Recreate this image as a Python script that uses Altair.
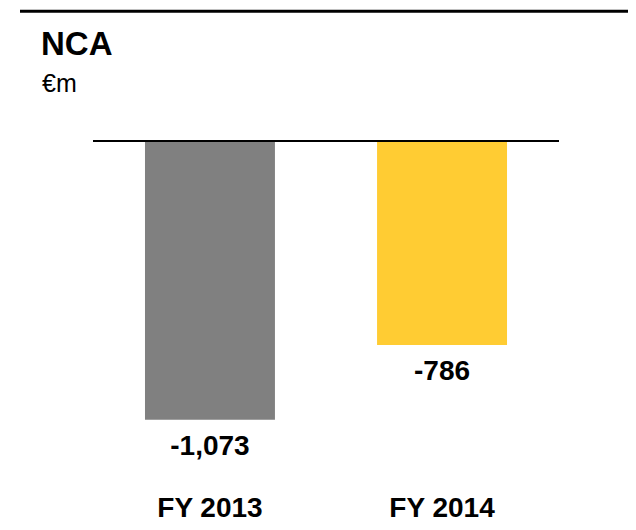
import altair as alt
import pandas as pd

# ---- data ----
categories = ["FY 2013", "FY 2014"]
values = [-1073, -786]
value_labels = ["-1,073", "-786"]
bar_colors = ["#808080", "#FFCC33"]
title_text = "NCA"
unit_text = "€m"

FONT = "Liberation Sans"

df = pd.DataFrame({"period": categories, "nca": values, "label": value_labels})
one = pd.DataFrame({"k": [0]})

x_enc = alt.X(
    "period:N",
    sort=categories,
    scale=alt.Scale(paddingInner=0.44, paddingOuter=0.224),
    axis=alt.Axis(
        title=None,
        orient="bottom",
        domain=False,
        ticks=False,
        grid=False,
        labelAngle=0,
        labelFont=FONT,
        labelFontSize=28,
        labelFontWeight="bold",
        labelColor="#000000",
        labelPadding=4,
    ),
)
y_enc = alt.Y("nca:Q", scale=alt.Scale(domain=[-1344, 0], nice=False), axis=None)

bars = alt.Chart(df).mark_bar().encode(
    x=x_enc,
    y=y_enc,
    color=alt.Color("period:N", scale=alt.Scale(domain=categories, range=bar_colors), legend=None),
)

labels = alt.Chart(df).mark_text(
    baseline="top", align="center", dy=13, font=FONT, fontSize=28, fontWeight="bold", color="#000000"
).encode(
    x=alt.X("period:N", sort=categories),
    y=alt.Y("nca:Q"),
    text="label:N",
)

zero_rule = alt.Chart(one).mark_rule(color="#000000", strokeWidth=2).encode(y=alt.datum(0))

top_rule = alt.Chart(one).mark_rule(color="#000000", strokeWidth=3).encode(
    x=alt.value(-73), x2=alt.value(540), y=alt.value(-129.7)
)

title_mark = alt.Chart(one).mark_text(
    align="left", baseline="alphabetic", font=FONT, fontSize=33, fontWeight="bold", color="#000000"
).encode(x=alt.value(-52), y=alt.value(-86), text=alt.value(title_text))

unit_mark = alt.Chart(one).mark_text(
    align="left", baseline="alphabetic", font=FONT, fontSize=25, color="#000000"
).encode(x=alt.value(-51), y=alt.value(-49), text=alt.value(unit_text))

chart = (
    alt.layer(bars, zero_rule, labels, top_rule, title_mark, unit_mark)
    .properties(
        width=466,
        height=349,
        padding={"left": 85, "top": 133, "right": 69, "bottom": 32},
        autosize=alt.AutoSizeParams(type="none"),
        background="#ffffff",
    )
    .configure_view(stroke=None)
)

chart.save("out.html", embed_options={"renderer": "svg", "actions": False})
